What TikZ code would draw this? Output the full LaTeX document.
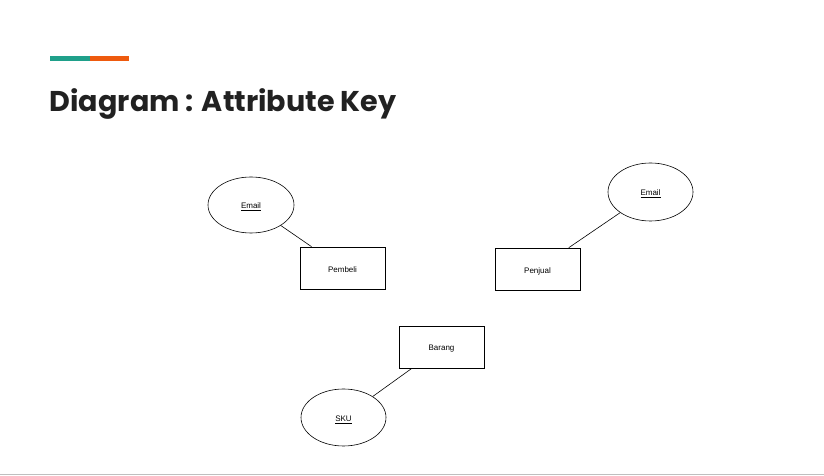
\documentclass[tikz,border=0pt]{standalone}
\usepackage{fontspec}
\setmainfont{Liberation Sans}
\newfontfamily\titlefont{Poppins}
\usetikzlibrary{shapes.geometric}
\definecolor{teal1}{HTML}{1FA08A}
\definecolor{orange1}{HTML}{EE5A0E}
\definecolor{titlecol}{HTML}{212121}
\newcommand{\lbltxt}[1]{\raisebox{-2pt}[\height][\depth]{#1}}
\tikzset{
  entity/.style={draw, line width=0.6pt, minimum width=85pt, minimum height=42pt, inner sep=0pt, font=\fontsize{8}{9}\selectfont},
  attr/.style={draw, ellipse, line width=0.6pt, minimum width=85pt, minimum height=57pt, inner sep=0pt, font=\fontsize{8}{9}\selectfont},
  link/.style={line width=0.6pt}
}
\begin{document}
\begin{tikzpicture}[x=1pt,y=1pt]
\useasboundingbox (0,0) rectangle (824,476);
\fill[white] (0,0) rectangle (824,476);
% accent bars
\fill[teal1] (50,415) rectangle (89.5,419.5);
\fill[orange1] (89.5,415) rectangle (129,419.5);
% title
\node[anchor=base west, inner sep=0pt, text=titlecol, font=\titlefont\bfseries\fontsize{28.6}{34}\selectfont] (title) at (49.5,364) {Diagram : Attribute Key};
% bottom rule
\draw[color=black!25, line width=1pt] (0,1) -- (824,1);
% entities
\node[entity] (pembeli) at (342.5,208) {\lbltxt{Pembeli}};
\node[entity] (penjual) at (537.5,207) {\lbltxt{Penjual}};
\node[entity] (barang) at (441.5,129) {\lbltxt{Barang}};
% attributes
\node[attr, minimum width=86pt, minimum height=56pt] (email1) at (251,271) {\lbltxt{\underline{Email}}};
\node[attr, minimum height=58pt] (email2) at (650.5,284) {\lbltxt{\underline{Email}}};
\node[attr] (sku) at (343.5,58.5) {\lbltxt{\underline{SKU}}};
% links
\draw[link] (email1) -- (pembeli);
\draw[link] (email2) -- (penjual);
\draw[link] (sku) -- (barang);
\end{tikzpicture}
\end{document}
